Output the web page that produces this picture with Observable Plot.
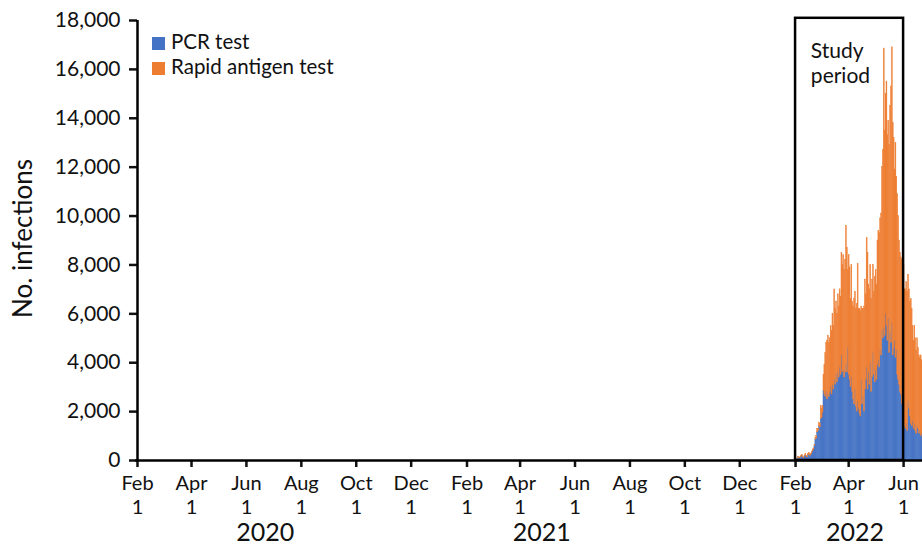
<!DOCTYPE html>
<html><head><meta charset="utf-8">
<script src="https://cdn.jsdelivr.net/npm/d3@7"></script>
<script src="https://cdn.jsdelivr.net/npm/@observablehq/plot@0.6"></script>
<style>
body{margin:0;background:#fff;font-family:Lato,sans-serif;}
#wrap{position:relative;width:922px;height:551px;overflow:hidden;}
.legend{position:absolute;left:152px;top:29px;font-size:20.5px;color:#111;line-height:25px;}
.legend .sw{display:inline-block;width:13px;height:13px;margin-right:6px;vertical-align:-1px;}
</style></head><body><div id="wrap"></div>
<script>
// ---- data ----
const startDate = "2022-02-01";            // first day of the daily series
const seriesNames = ["PCR test", "Rapid antigen test"];
const seriesColors = ["#4472C4", "#ED7D31"];
const pcr = [
  0,30,70,130,90,100,150,180,130,90,170,210,150,130,210,250,180,230,300,380,
  450,600,850,900,1150,1200,1400,1350,1700,1750,
  1950,2850,2700,2600,2800,2500,2700,2600,2800,3000,
  2700,3100,2900,3300,3100,3500,3200,3600,3400,3800,
  3500,4300,3600,3700,3400,3600,3900,3600,4600,3500,
  3300,3000,3400,2800,2500,2300,2900,2200,2000,2400,
  2100,1900,1800,3300,2300,2600,2000,2900,3300,3800,
  2900,3600,3100,4000,2800,3400,4400,3500,3200,3700,
  3300,3900,4100,3800,4500,4300,5300,5000,5400,5100,
  6000,5500,4900,5800,4400,5200,4800,5600,4300,4600,
  4900,4200,4500,3500,3300,3100,2800,2700,2300,2200,
  2200,1400,1300,1500,1200,2400,2100,1800,1500,1400,
  1600,1300,1500,1200,1100,1400,1300,1100,1200,1000,
  1100,900];
const rat = [
  0,10,20,30,20,30,40,50,30,20,40,50,40,30,50,60,40,50,60,70,
  50,50,80,100,150,100,150,150,530,350,
  280,650,1200,1800,2000,2400,2400,2200,2200,2500,
  2600,2900,2600,3700,3100,3000,2800,3200,2900,3200,
  3200,4200,4400,4700,4400,4600,5700,5100,3200,4900,
  4600,3600,4600,3700,3800,4300,4000,4000,4400,5650,
  4100,4300,4300,3000,3900,3600,4300,4500,3500,5300,
  5600,3600,3900,4000,3800,4000,3600,3400,4300,4100,
  3900,5100,5300,5500,5400,5800,6700,7700,11450,8400,
  9000,10000,8400,8100,8500,9300,10500,11300,9500,8600,
  7000,8800,7100,7400,6700,5900,5700,5600,5900,6000,
  5800,5600,5700,5800,5700,5200,4900,4700,5100,4800,
  3900,3600,4000,3800,3400,3600,3300,3200,3000,3300,
  3000,3000];
const yTicks = [0,2000,4000,6000,8000,10000,12000,14000,16000,18000];
const xTickDates = ["2020-02-01","2020-04-01","2020-06-01","2020-08-01","2020-10-01","2020-12-01",
  "2021-02-01","2021-04-01","2021-06-01","2021-08-01","2021-10-01","2021-12-01",
  "2022-02-01","2022-04-01","2022-06-01"];
const yearLabels = ["2020","2021","2022"];
const studyLabel = "Study\nperiod";
const studyStart = "2022-02-01", studyEnd = "2022-06-01";

// ---- layout ----
const yearLabelDates = ["2020-06-22","2021-04-25","2022-04-08"];
const xDomain = [new Date("2020-02-01"), new Date("2022-06-22")];

const t0 = new Date(startDate);
const rows = [];
pcr.forEach((v, i) => rows.push({date: d3.utcDay.offset(t0, i), series: seriesNames[0], value: v}));
rat.forEach((v, i) => rows.push({date: d3.utcDay.offset(t0, i), series: seriesNames[1], value: v}));

const chart = Plot.plot({
  width: 922, height: 551,
  marginLeft: 137, marginRight: 0, marginTop: 20, marginBottom: 91,
  style: {fontFamily: "Lato, sans-serif", fontSize: "20px", color: "#111", background: "#fff"},
  x: {type: "utc", domain: xDomain},
  y: {domain: [0, 18000]},
  color: {domain: seriesNames, range: seriesColors},
  marks: [
    Plot.rectY(rows, {x: "date", y: "value", fill: "series", stroke: "series", strokeWidth: 0.45,
      interval: "day", inset: 0}),
    Plot.rect([0], {x1: new Date(studyStart), x2: new Date(studyEnd), y1: 0, y2: 18090,
      fill: "none", stroke: "#000", strokeWidth: 2.5}),
    Plot.text([studyLabel], {x: new Date("2022-02-18"), y: 17200, text: d => d, textAnchor: "start",
      lineAnchor: "top", fontSize: 21, lineHeight: 1.2, fill: "#111"}),
    Plot.axisY({ticks: yTicks, tickFormat: d3.format(","), tickSize: 8, tickPadding: 9,
      strokeWidth: 2.5, label: null, fontSize: 21}),
    Plot.axisX({ticks: xTickDates.map(d => new Date(d)),
      tickFormat: d => d3.utcFormat("%b")(d) + "\n1", tickSize: 7, tickPadding: 5,
      strokeWidth: 2.5, label: null, fontSize: 20, lineHeight: 1.2}),
    Plot.ruleX([xDomain[0]], {y1: 0, y2: 18000, stroke: "#000", strokeWidth: 2.5}),
    Plot.ruleY([0], {x1: new Date("2020-01-30"), x2: xDomain[1], stroke: "#000", strokeWidth: 2.5}),
    Plot.text(yearLabels, {x: yearLabelDates.map(d => new Date(d)), text: d => d,
      frameAnchor: "bottom", dy: 80, fontSize: 25, fill: "#111"}),
    Plot.text(["No. infections"], {text: d => d, frameAnchor: "left", dx: -114, dy: -2, rotate: -90,
      textAnchor: "middle", fontSize: 26, fill: "#111"})
  ]
});
const wrap = document.getElementById("wrap");
wrap.appendChild(chart);
const leg = document.createElement("div");
leg.className = "legend";
leg.innerHTML = seriesNames.map((n, i) =>
  `<div><span class="sw" style="background:${seriesColors[i]}"></span>${n}</div>`).join("");
wrap.appendChild(leg);
</script></body></html>
